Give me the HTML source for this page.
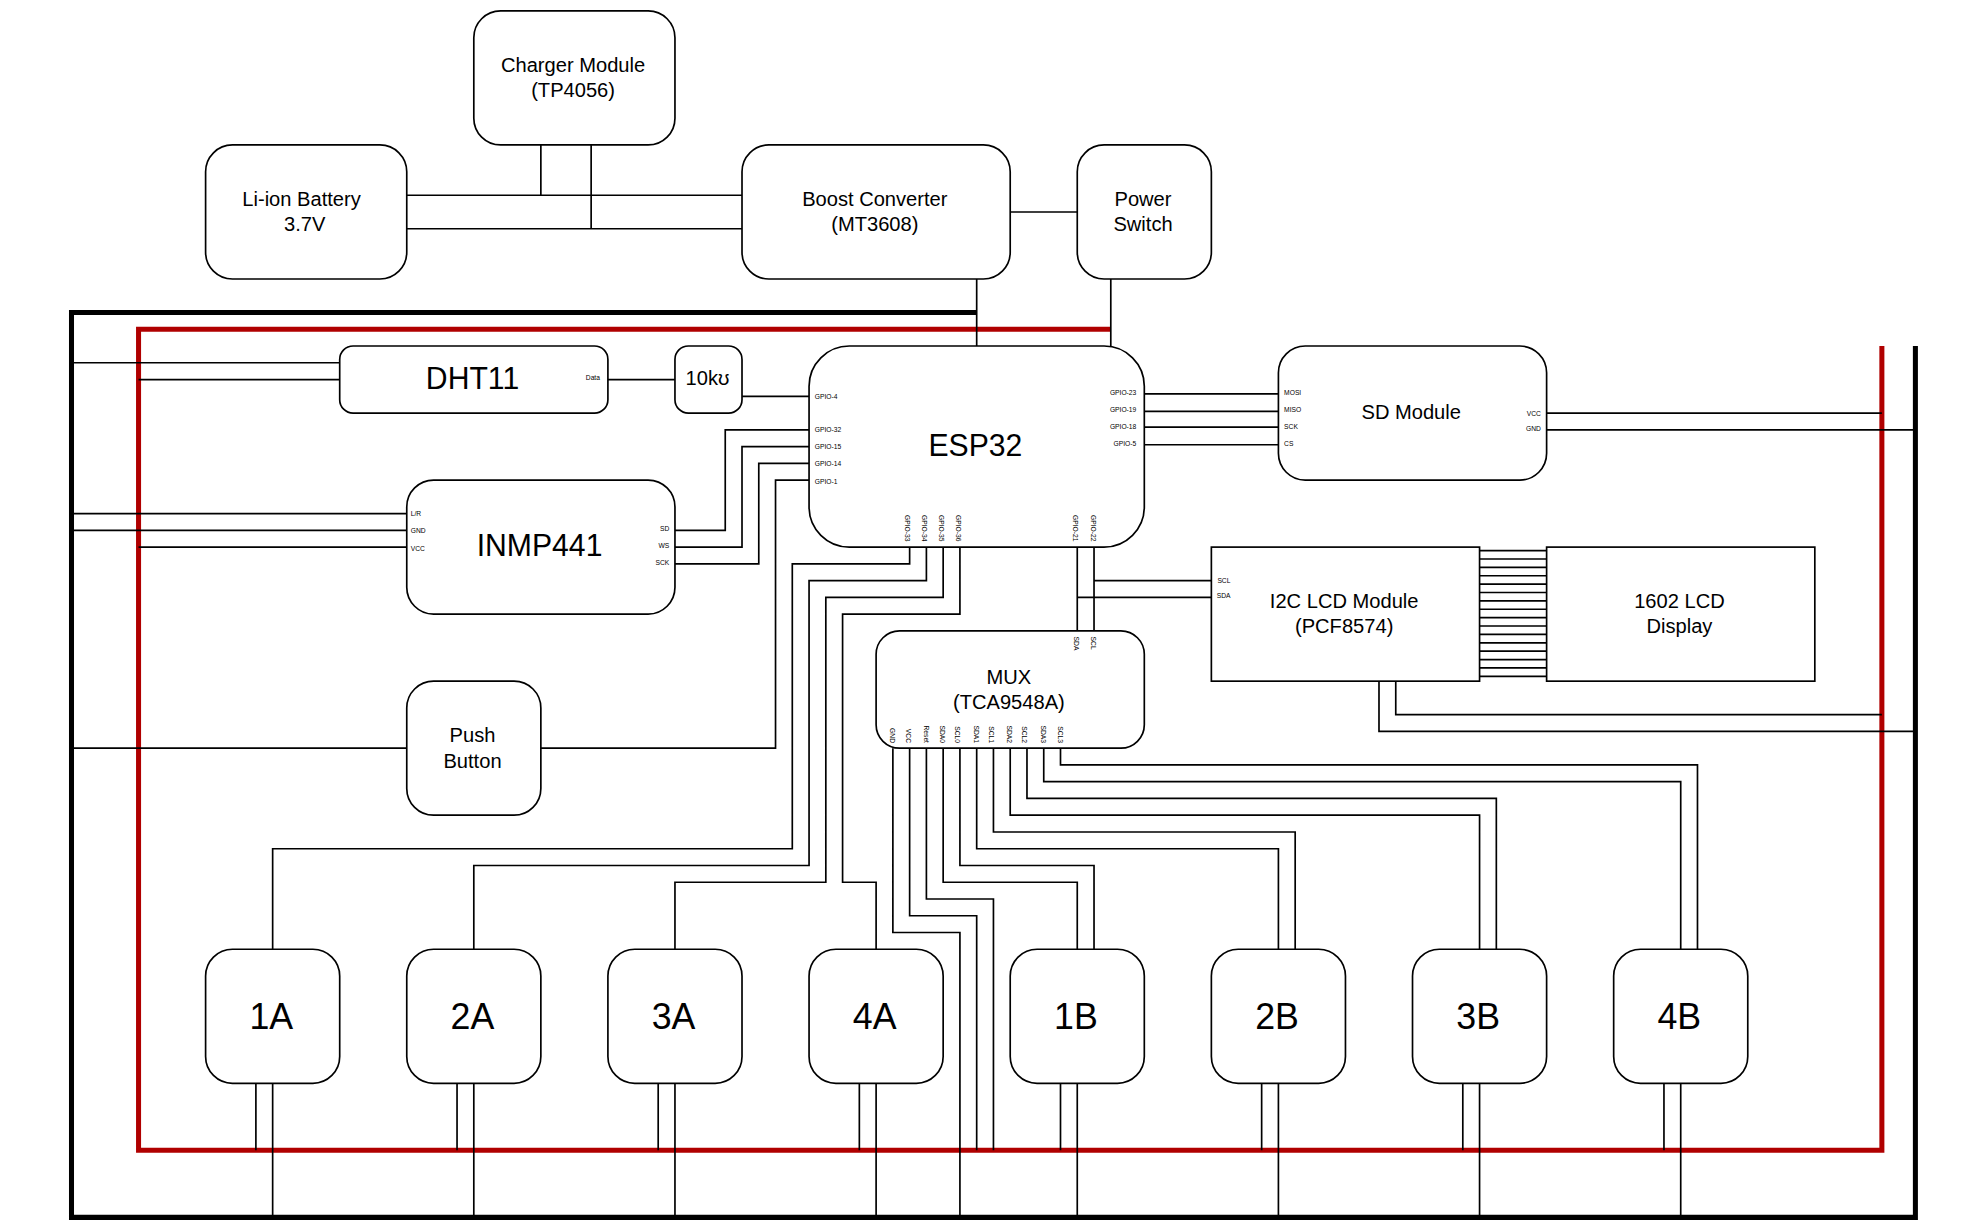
<!DOCTYPE html>
<html lang="en">
<head>
<meta charset="utf-8">
<title>ESP32 Block Diagram</title>
<style>
html,body{margin:0;padding:0;background:#fff;}
body{width:1963px;height:1232px;overflow:hidden;}
svg{display:block;}
svg text{font-family:"Liberation Sans",sans-serif;fill:#000;}
.kb{fill:none;stroke:#000;stroke-width:3;stroke-linejoin:miter;}
.kr{fill:none;stroke:#b00000;stroke-width:3;stroke-linejoin:miter;}
.t{fill:none;stroke:#000;stroke-width:1;stroke-linejoin:miter;}
.b{fill:#fff;stroke:#000;stroke-width:1;}
</style>
</head>
<body>
<svg width="1963" height="1232" viewBox="0 0 1963 1232">
<g transform="translate(4.45 10.9) scale(1.67627 1.67565)">
<path class="kb" d="M580 180 L40 180 L40 720 L1140 720 L1140 200"/>
<path class="kr" d="M660 190 L80 190 L80 680 L1120 680 L1120 200"/>
<path class="t" d="M320 80 L320 110 M350 80 L350 130 M240 110 L440 110 M240 130 L440 130 M600 120 L640 120 M580 160 L580 200 M660 160 L660 200 M40 210 L200 210 M80 220 L200 220 M360 220 L400 220 M440 230 L480 230 M40 300 L240 300 M40 310 L240 310 M80 320 L240 320 M400 310 L430 310 L430 250 L480 250 M400 320 L440 320 L440 260 L480 260 M400 330 L450 330 L450 270 L480 270 M480 280 L460 280 L460 440 L320 440 M40 440 L240 440 M540 320 L540 330 L470 330 L470 500 L160 500 L160 560 M550 320 L550 340 L480 340 L480 510 L280 510 L280 560 M560 320 L560 350 L490 350 L490 520 L400 520 L400 560 M570 320 L570 360 L500 360 L500 520 L520 520 L520 560 M640 320 L640 370 M640 350 L720 350 M650 320 L650 370 M650 340 L720 340 M680 228.6 L760 228.6 M680 238.95 L760 238.95 M680 248.4 L760 248.4 M680 258.9 L760 258.9 M920 240 L1120 240 M920 250 L1140 250 M880 322.1 L920 322.1 M880 327.1 L920 327.1 M880 332.1 L920 332.1 M880 337.1 L920 337.1 M880 342.1 L920 342.1 M880 347.1 L920 347.1 M880 352.1 L920 352.1 M880 357.1 L920 357.1 M880 362.1 L920 362.1 M880 367.1 L920 367.1 M880 372.1 L920 372.1 M880 377.1 L920 377.1 M880 382.1 L920 382.1 M880 387.1 L920 387.1 M880 392.1 L920 392.1 M880 397.1 L920 397.1 M830 400 L830 420 L1120 420 M820 400 L820 430 L1140 430 M530 440 L530 550 L570 550 L570 720 M540 440 L540 540 L580 540 L580 680 M550 440 L550 530 L590 530 L590 680 M560 440 L560 520 L640 520 L640 560 M570 440 L570 510 L650 510 L650 560 M580 440 L580 500 L760 500 L760 560 M590 440 L590 490 L770 490 L770 560 M600 440 L600 480 L880 480 L880 560 M610 440 L610 470 L890 470 L890 560 M620 440 L620 460 L1000 460 L1000 560 M630 440 L630 450 L1010 450 L1010 560 M150 640 L150 680 M160 640 L160 720 M270 640 L270 680 M280 640 L280 720 M390 640 L390 680 M400 640 L400 720 M510 640 L510 680 M520 640 L520 720 M630 640 L630 680 M640 640 L640 720 M750 640 L750 680 M760 640 L760 720 M870 640 L870 680 M880 640 L880 720 M990 640 L990 680 M1000 640 L1000 720"/>
<rect class="b" x="280" y="0" width="120" height="80" rx="16"/>
<rect class="b" x="120" y="80" width="120" height="80" rx="16"/>
<rect class="b" x="440" y="80" width="160" height="80" rx="16"/>
<rect class="b" x="640" y="80" width="80" height="80" rx="16"/>
<rect class="b" x="200" y="200" width="160" height="40" rx="8"/>
<rect class="b" x="400" y="200" width="40" height="40" rx="8"/>
<rect class="b" x="480" y="200" width="200" height="120" rx="24"/>
<rect class="b" x="760" y="200" width="160" height="80" rx="16"/>
<rect class="b" x="240" y="280" width="160" height="80" rx="16"/>
<rect class="b" x="240" y="400" width="80" height="80" rx="16"/>
<rect class="b" x="520" y="370" width="160" height="70" rx="14"/>
<rect class="b" x="720" y="320" width="160" height="80" rx="0"/>
<rect class="b" x="920" y="320" width="160" height="80" rx="0"/>
<rect class="b" x="120" y="560" width="80" height="80" rx="16"/>
<rect class="b" x="240" y="560" width="80" height="80" rx="16"/>
<rect class="b" x="360" y="560" width="80" height="80" rx="16"/>
<rect class="b" x="480" y="560" width="80" height="80" rx="16"/>
<rect class="b" x="600" y="560" width="80" height="80" rx="16"/>
<rect class="b" x="720" y="560" width="80" height="80" rx="16"/>
<rect class="b" x="840" y="560" width="80" height="80" rx="16"/>
<rect class="b" x="960" y="560" width="80" height="80" rx="16"/>
</g>
<g>
<text x="573.08" y="71.98" font-size="20.11" text-anchor="middle">Charger Module</text>
<text x="573.08" y="96.93" font-size="20.11" text-anchor="middle">(TP4056)</text>
<text x="301.53" y="206.03" font-size="20.11" text-anchor="middle">Li-ion Battery</text>
<text x="304.73" y="230.98" font-size="20.11" text-anchor="middle">3.7V</text>
<text x="874.81" y="206.03" font-size="20.11" text-anchor="middle">Boost Converter</text>
<text x="874.81" y="230.98" font-size="20.11" text-anchor="middle">(MT3608)</text>
<text x="1143.01" y="206.03" font-size="20.11" text-anchor="middle">Power</text>
<text x="1143.01" y="230.98" font-size="20.11" text-anchor="middle">Switch</text>
<text x="472.51" y="741.60" font-size="20.11" text-anchor="middle">Push</text>
<text x="472.51" y="767.75" font-size="20.11" text-anchor="middle">Button</text>
<text x="1008.91" y="683.59" font-size="20.11" text-anchor="middle">MUX</text>
<text x="1008.91" y="708.54" font-size="20.11" text-anchor="middle">(TCA9548A)</text>
<text x="1344.17" y="608.18" font-size="20.11" text-anchor="middle">I2C LCD Module</text>
<text x="1344.17" y="633.13" font-size="20.11" text-anchor="middle">(PCF8574)</text>
<text x="1679.42" y="608.18" font-size="20.11" text-anchor="middle">1602 LCD</text>
<text x="1679.42" y="633.13" font-size="20.11" text-anchor="middle">Display</text>
<text transform="translate(472.51 388.80) scale(1 1.04)" font-size="30.17" text-anchor="middle">DHT11</text>
<text x="707.48" y="384.70" font-size="20.11" text-anchor="middle">10kʊ</text>
<text transform="translate(975.39 456.05) scale(1 1.04)" font-size="30.17" text-anchor="middle">ESP32</text>
<text x="1411.22" y="419.00" font-size="20.11" text-anchor="middle">SD Module</text>
<text transform="translate(539.56 555.60) scale(1 1.04)" font-size="30.17" text-anchor="middle">INMP441</text>
<text transform="translate(271.25 1028.80) scale(1 1.04)" font-size="35.75" text-anchor="middle">1A</text>
<text transform="translate(472.41 1028.80) scale(1 1.04)" font-size="35.75" text-anchor="middle">2A</text>
<text transform="translate(673.56 1028.80) scale(1 1.04)" font-size="35.75" text-anchor="middle">3A</text>
<text transform="translate(874.71 1028.80) scale(1 1.04)" font-size="35.75" text-anchor="middle">4A</text>
<text transform="translate(1075.86 1028.80) scale(1 1.04)" font-size="35.75" text-anchor="middle">1B</text>
<text transform="translate(1277.02 1028.80) scale(1 1.04)" font-size="35.75" text-anchor="middle">2B</text>
<text transform="translate(1478.17 1028.80) scale(1 1.04)" font-size="35.75" text-anchor="middle">3B</text>
<text transform="translate(1679.32 1028.80) scale(1 1.04)" font-size="35.75" text-anchor="middle">4B</text>
<text x="814.76" y="398.65" font-size="6.70" text-anchor="start">GPIO-4</text>
<text x="814.76" y="432.16" font-size="6.70" text-anchor="start">GPIO-32</text>
<text x="814.76" y="448.91" font-size="6.70" text-anchor="start">GPIO-15</text>
<text x="814.76" y="465.67" font-size="6.70" text-anchor="start">GPIO-14</text>
<text x="814.76" y="483.77" font-size="6.70" text-anchor="start">GPIO-1</text>
<text x="1136.27" y="394.96" font-size="6.70" text-anchor="end">GPIO-23</text>
<text x="1136.27" y="412.05" font-size="6.70" text-anchor="end">GPIO-19</text>
<text x="1136.27" y="428.81" font-size="6.70" text-anchor="end">GPIO-18</text>
<text x="1136.27" y="445.56" font-size="6.70" text-anchor="end">GPIO-5</text>
<text x="1284.11" y="394.96" font-size="6.70" text-anchor="start">MOSI</text>
<text x="1284.11" y="412.05" font-size="6.70" text-anchor="start">MISO</text>
<text x="1284.11" y="428.81" font-size="6.70" text-anchor="start">SCK</text>
<text x="1284.11" y="445.56" font-size="6.70" text-anchor="start">CS</text>
<text x="1540.92" y="415.90" font-size="6.70" text-anchor="end">VCC</text>
<text x="1540.92" y="430.99" font-size="6.70" text-anchor="end">GND</text>
<text x="599.94" y="379.88" font-size="6.70" text-anchor="end">Data</text>
<text x="410.78" y="515.94" font-size="6.70" text-anchor="start">L/R</text>
<text x="410.78" y="532.70" font-size="6.70" text-anchor="start">GND</text>
<text x="410.78" y="550.71" font-size="6.70" text-anchor="start">VCC</text>
<text x="669.26" y="531.02" font-size="6.70" text-anchor="end">SD</text>
<text x="669.26" y="547.78" font-size="6.70" text-anchor="end">WS</text>
<text x="669.26" y="564.53" font-size="6.70" text-anchor="end">SCK</text>
<text x="1217.40" y="582.63" font-size="6.70" text-anchor="start">SCL</text>
<text x="1216.73" y="597.71" font-size="6.70" text-anchor="start">SDA</text>
<text transform="translate(905.29 541.41) rotate(90)" font-size="6.70" text-anchor="end">GPIO-33</text>
<text transform="translate(922.05 541.41) rotate(90)" font-size="6.70" text-anchor="end">GPIO-34</text>
<text transform="translate(938.81 541.41) rotate(90)" font-size="6.70" text-anchor="end">GPIO-35</text>
<text transform="translate(955.58 541.41) rotate(90)" font-size="6.70" text-anchor="end">GPIO-36</text>
<text transform="translate(1072.92 541.41) rotate(90)" font-size="6.70" text-anchor="end">GPIO-21</text>
<text transform="translate(1090.98 541.41) rotate(90)" font-size="6.70" text-anchor="end">GPIO-22</text>
<text transform="translate(1074.22 636.59) rotate(90)" font-size="6.70" text-anchor="start">SDA</text>
<text transform="translate(1090.98 636.59) rotate(90)" font-size="6.70" text-anchor="start">SCL</text>
<text transform="translate(889.93 742.99) rotate(90)" font-size="6.70" text-anchor="end">GND</text>
<text transform="translate(905.59 742.99) rotate(90)" font-size="6.70" text-anchor="end">VCC</text>
<text transform="translate(923.85 742.99) rotate(90)" font-size="6.70" text-anchor="end">Reset</text>
<text transform="translate(939.81 742.99) rotate(90)" font-size="6.70" text-anchor="end">SDA0</text>
<text transform="translate(954.88 742.99) rotate(90)" font-size="6.70" text-anchor="end">SCL0</text>
<text transform="translate(974.14 742.99) rotate(90)" font-size="6.70" text-anchor="end">SDA1</text>
<text transform="translate(989.00 742.99) rotate(90)" font-size="6.70" text-anchor="end">SCL1</text>
<text transform="translate(1007.27 742.99) rotate(90)" font-size="6.70" text-anchor="end">SDA2</text>
<text transform="translate(1022.33 742.99) rotate(90)" font-size="6.70" text-anchor="end">SCL2</text>
<text transform="translate(1041.19 742.99) rotate(90)" font-size="6.70" text-anchor="end">SDA3</text>
<text transform="translate(1057.55 742.99) rotate(90)" font-size="6.70" text-anchor="end">SCL3</text>
</g>
</svg>
</body>
</html>
